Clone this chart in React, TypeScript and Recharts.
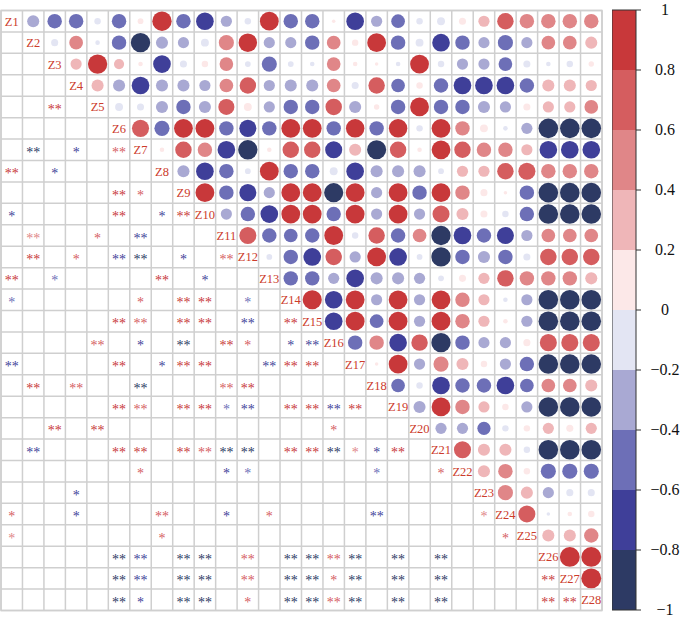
import React from "react";
import { CartesianGrid, ComposedChart, ReferenceArea, Scatter, ScatterChart, XAxis, YAxis } from "recharts";

const labels = [
  "Z1", "Z2", "Z3", "Z4", "Z5", "Z6", "Z7", "Z8", "Z9", "Z10", "Z11", "Z12", "Z13", "Z14",
  "Z15", "Z16", "Z17", "Z18", "Z19", "Z20", "Z21", "Z22", "Z23", "Z24", "Z25", "Z26", "Z27", "Z28",
];

// upper triangle: row i holds the correlations with Z(i+1) .. Z28
const upper: number[][] = [
  [-0.35, -0.5, -0.5, -0.1, -0.5, 0.08, 0.9, -0.5, -0.75, -0.3, -0.1, 0.85, -0.5, -0.5, 0.03, -0.75, -0.3, -0.45, -0.1, -0.15, 0.12, 0.3, 0.65, 0.5, 0.5, 0.5, 0.5],
  [-0.12, 0.45, -0.05, -0.5, -0.9, -0.35, -0.3, -0.15, 0.55, 0.82, -0.3, -0.3, -0.5, 0.45, 0.1, 0.85, -0.5, -0.15, -0.75, -0.5, -0.3, -0.55, -0.3, 0.45, 0.45, 0.35],
  [0.3, 0.9, 0.25, 0.05, -0.75, -0.12, 0.1, 0.45, -0.08, -0.55, -0.08, -0.05, 0.45, 0.05, 0.03, -0.05, 0.85, -0.1, -0.3, -0.3, -0.45, -0.12, -0.05, -0.1, 0.07],
  [0.35, -0.35, -0.75, -0.35, -0.35, -0.3, 0.45, 0.65, -0.3, -0.35, -0.35, 0.45, -0.12, 0.65, -0.45, 0.1, -0.5, -0.75, -0.75, -0.75, -0.5, 0.35, 0.35, 0.3],
  [-0.15, -0.12, -0.35, -0.5, -0.35, 0.62, 0.15, -0.3, -0.5, -0.5, 0.65, -0.35, 0.07, -0.5, 0.85, -0.5, -0.5, -0.35, -0.3, 0.12, 0.3, 0.3, 0.45],
  [0.7, -0.55, 0.85, 0.85, -0.5, -0.7, -0.5, 0.85, 0.85, -0.5, 0.82, -0.5, 0.82, -0.1, 0.85, 0.5, 0.15, -0.05, -0.3, -0.92, -0.92, -0.92],
  [0.05, 0.65, 0.5, -0.75, -0.9, 0.05, 0.65, 0.65, -0.7, 0.35, -0.88, 0.65, 0.05, 0.85, 0.65, 0.5, 0.5, 0.3, -0.75, -0.75, -0.75],
  [-0.35, -0.75, -0.5, -0.08, 0.85, -0.5, -0.5, -0.15, -0.75, -0.35, -0.35, -0.35, -0.08, 0.3, 0.3, 0.65, 0.7, 0.5, 0.5, 0.5],
  [0.85, -0.5, -0.7, -0.3, 0.85, 0.85, -0.88, 0.85, -0.3, 0.85, -0.5, 0.85, 0.5, 0.12, 0.03, -0.5, -0.92, -0.92, -0.92],
  [-0.3, -0.5, -0.75, 0.85, 0.85, -0.5, 0.85, -0.3, 0.85, -0.3, 0.7, 0.35, 0.12, -0.1, -0.5, -0.92, -0.92, -0.92],
  [0.7, -0.5, -0.45, -0.5, 0.85, -0.1, 0.65, -0.5, 0.45, -0.9, -0.75, -0.5, -0.7, -0.3, 0.45, 0.45, 0.45],
  [-0.08, -0.5, -0.75, 0.65, -0.3, 0.85, -0.75, -0.08, -0.9, -0.5, -0.35, -0.5, -0.12, 0.65, 0.65, 0.65],
  [-0.5, -0.5, -0.3, -0.75, -0.35, -0.35, -0.3, -0.08, 0.12, 0.3, 0.65, 0.5, 0.5, 0.5, 0.35],
  [0.88, -0.75, 0.85, -0.3, 0.85, -0.3, 0.85, 0.5, 0.3, -0.05, -0.3, -0.92, -0.92, -0.92],
  [-0.75, 0.85, -0.45, 0.85, -0.3, 0.85, 0.5, 0.3, 0.05, -0.3, -0.92, -0.92, -0.92],
  [-0.5, 0.5, -0.75, 0.65, -0.9, -0.5, -0.3, -0.3, 0.12, 0.7, 0.7, 0.7],
  [0.03, 0.85, -0.3, 0.55, 0.35, 0.1, -0.3, -0.5, -0.92, -0.92, -0.92],
  [-0.45, -0.1, -0.75, -0.5, -0.5, -0.75, -0.45, 0.45, 0.45, 0.35],
  [-0.35, 0.85, 0.5, 0.3, 0.1, -0.3, -0.92, -0.92, -0.92],
  [-0.3, -0.3, -0.42, -0.1, 0.1, 0.3, 0.12, 0.3],
  [0.7, 0.35, 0.35, -0.1, -0.92, -0.92, -0.92],
  [0.35, 0.5, 0.1, -0.55, -0.55, -0.55],
  [0.55, 0.35, -0.3, -0.12, -0.12],
  [0.7, -0.03, 0.05, 0.1],
  [0.35, 0.35, 0.5],
  [0.95, 0.95],
  [0.95],
];

// lower triangle: row i holds Z1 .. Z(i-1); 0 = none, 1 = "*", 2 = "**"
const sig: string[] = [
  "",
  "0",
  "00",
  "000",
  "0020",
  "00000",
  "020102",
  "2010000",
  "00000210",
  "100002012",
  "0200102000",
  "02010220102",
  "201000020100",
  "1000001022010",
  "00000220220202",
  "000020102021012",
  "2000020122002220",
  "02020020002200000",
  "000002202212022220",
  "0020200000000001000",
  "02000220222202221120",
  "000000100011000001001",
  "0001000000000000000000",
  "10010002001010000200001",
  "100000010000000000000001",
  "0000022022020222202020000",
  "00000220220202212020200002",
  "000002102201022220202000022",
];

const binColors = [
  "#2d3a64", "#3f3f99", "#6d6fb7", "#a9a9d3", "#e3e5f3",
  "#fce8e8", "#efb6b8", "#e08688", "#d55d5f", "#c8383a",
];
const binEdges = [-1, -0.8, -0.6, -0.4, -0.2, 0, 0.2, 0.4, 0.6, 0.8, 1];
const cbTicks = [1, 0.8, 0.6, 0.4, 0.2, 0, -0.2, -0.4, -0.6, -0.8, -1];

const SERIF = "'Liberation Serif', 'Times New Roman', serif";
const N = labels.length;
const gridTicks = Array.from({ length: N + 1 }, (_, i) => i + 0.5);

const colorOf = (r: number) => {
  const k = Math.min(9, Math.max(0, Math.floor((r + 1) / 0.2)));
  return binColors[k];
};

const circles = upper.flatMap((row, i) => row.map((r, k) => ({ x: i + 2 + k, y: i + 1, r })));
const stars = sig.flatMap((s, i) =>
  s.split("").map((c, j) => ({ x: j + 1, y: i + 1, n: Number(c), r: c === "0" ? 0 : upper[j][i - j - 1] }))
).filter((d) => d.n > 0);
const diag = labels.map((label, i) => ({ x: i + 1, y: i + 1, label }));
const cbData = [{ x: 0 }, { x: 1 }];

const CircleShape = (p: any) => {
  const r = p.payload.r;
  return <circle cx={p.cx} cy={p.cy} r={Math.sqrt(Math.abs(r)) * 10.2} fill={colorOf(r)} />;
};

const StarShape = (p: any) => (
  <text x={p.cx} y={p.cy + 7} textAnchor="middle" fontSize={14} fontFamily={SERIF} fill={colorOf(p.payload.r)}>
    {p.payload.n === 2 ? "**" : "*"}
  </text>
);

const LabelShape = (p: any) => (
  <text x={p.cx} y={p.cy + 4.5} textAnchor="middle" fontSize={12.5} fontFamily={SERIF} fill="#cc3b2b">
    {p.payload.label}
  </text>
);

const CbTick = (p: any) => (
  <g>
    <line x1={p.x - 7} x2={p.x - 2} y1={p.y} y2={p.y} stroke="#333" />
    <text x={p.x + 22} y={p.y + 5} textAnchor="middle" fontSize={16} fontFamily={SERIF} fill="#111">
      {p.payload.value < 0 ? `\u2212${Math.abs(p.payload.value)}` : `${p.payload.value}`}
    </text>
  </g>
);

export default function App() {
  return (
    <div style={{ position: "absolute", left: 0, top: 0, width: 685, height: 620, background: "#fff" }}>
      <div style={{ position: "absolute", left: 0, top: 0 }}>
        <ScatterChart width={610} height={620} margin={{ top: 10.5, left: 1, right: 8, bottom: 9.5 }}>
          <XAxis type="number" dataKey="x" domain={[0.5, N + 0.5]} ticks={gridTicks} interval={0} hide />
          <YAxis type="number" dataKey="y" domain={[0.5, N + 0.5]} ticks={gridTicks} interval={0} reversed hide />
          <CartesianGrid stroke="#cfcfcf" strokeWidth={1.5} />
          <ReferenceArea x1={0.5} x2={N + 0.5} y1={0.5} y2={N + 0.5} fill="none" stroke="#cfcfcf" strokeWidth={1.5} />
          <Scatter data={circles} shape={CircleShape} isAnimationActive={false} />
          <Scatter data={stars} shape={StarShape} isAnimationActive={false} />
          <Scatter data={diag} shape={LabelShape} isAnimationActive={false} />
        </ScatterChart>
      </div>
      <div style={{ position: "absolute", left: 612, top: 0 }}>
        <ComposedChart width={73} height={620} data={cbData} margin={{ top: 10, bottom: 10, left: 0, right: 0 }}>
          <XAxis type="number" dataKey="x" domain={[0, 1]} hide />
          <YAxis
            type="number"
            domain={[-1, 1]}
            ticks={cbTicks}
            interval={0}
            orientation="right"
            width={49}
            axisLine={false}
            tickLine={false}
            tickSize={5}
            tick={CbTick}
            allowDataOverflow
          />
          {binColors.map((c, i) => (
            <ReferenceArea key={c} x1={0} x2={1} y1={binEdges[i]} y2={binEdges[i + 1]} fill={c} fillOpacity={1} stroke="none" />
          ))}
          <ReferenceArea x1={0} x2={1} y1={-1} y2={1} fill="none" stroke="#333" strokeWidth={1} />
        </ComposedChart>
      </div>
    </div>
  );
}
